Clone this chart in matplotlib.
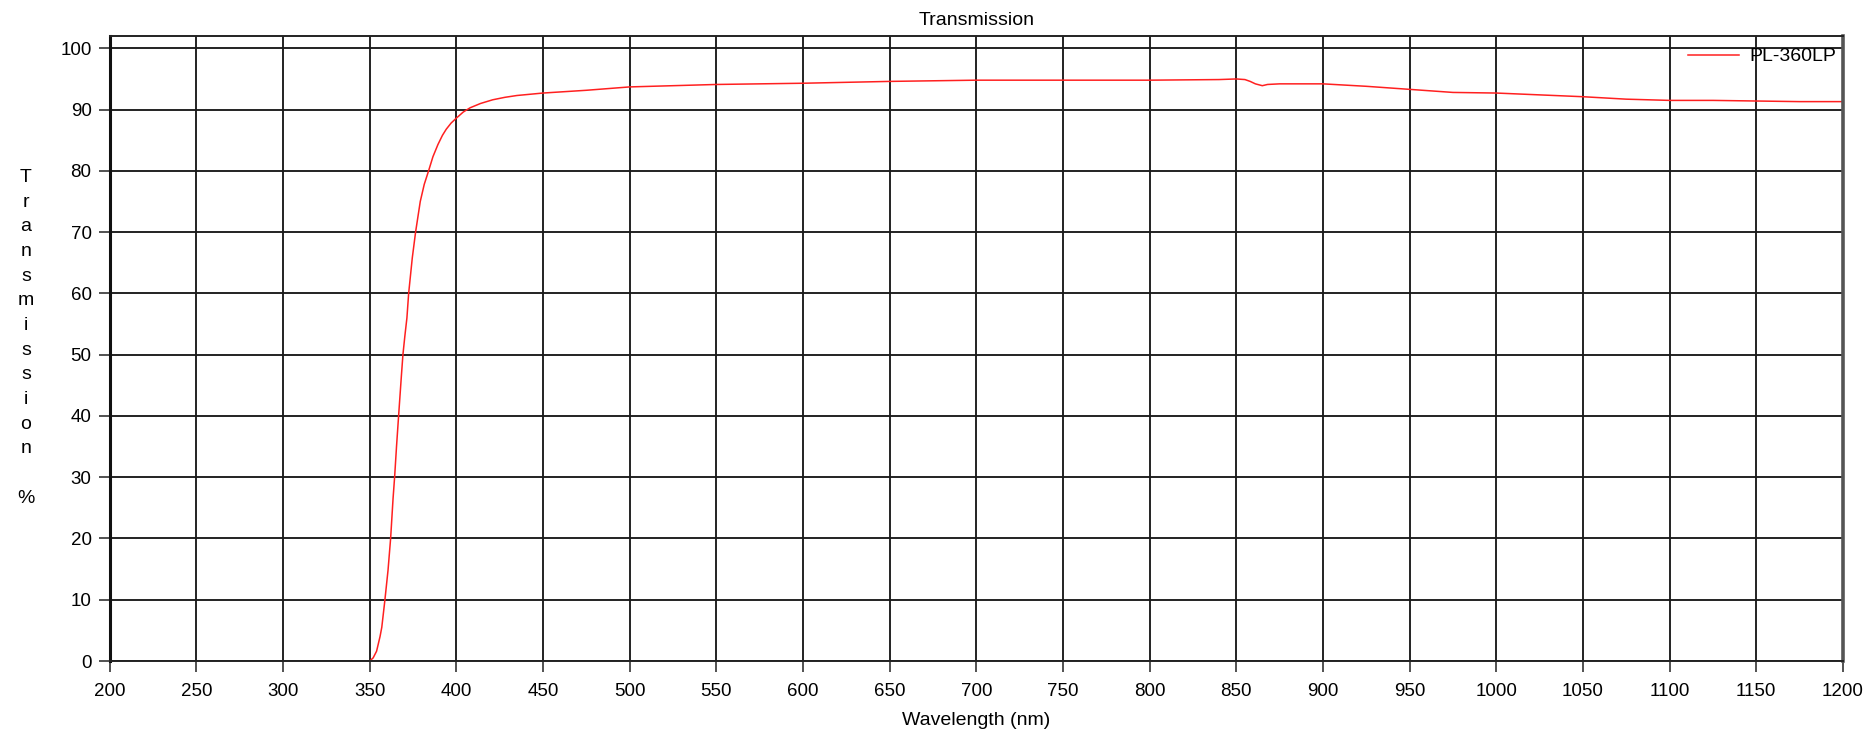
import matplotlib.pyplot as plt
import numpy as np

plt.rcParams['font.family'] = ['Liberation Sans', 'DejaVu Sans']

# wavelength (nm) and transmission (%)
wavelength = [350, 352, 354, 356, 357, 358.7, 360.6, 362.1, 363.5, 364.4,
              365.5, 366.7, 368.3, 369.2, 370.3, 371.5, 372.5, 374.6, 376.5, 379.2,
              381.5, 384, 386.5, 389.4, 392, 394.2, 397, 400, 404, 408,
              414, 421, 428, 435, 450, 475, 500, 525, 550, 575,
              600, 625, 650, 700, 750, 800, 840, 850, 855, 858,
              861, 865, 868, 875, 900, 925, 950, 975, 1000, 1025,
              1050, 1075, 1100, 1125, 1150, 1175, 1200]
transmission = [0, 0.5, 1.6, 4.0, 5.5, 9.7, 14.8, 20, 26.5, 30,
                35, 40, 46.5, 50, 53, 56, 60, 65.8, 70, 75.0,
                77.8, 80, 82.3, 84.3, 85.8, 86.8, 87.8, 88.6, 89.6, 90.3,
                91, 91.6, 92, 92.3, 92.7, 93.15, 93.7, 93.9, 94.1, 94.2,
                94.3, 94.45, 94.6, 94.8, 94.8, 94.8, 94.9, 95.0, 94.9, 94.6,
                94.2, 93.9, 94.1, 94.2, 94.2, 93.8, 93.3, 92.8, 92.7, 92.4,
                92.1, 91.7, 91.5, 91.5, 91.4, 91.3, 91.3]
series_name = 'PL-360LP'

xticks = np.arange(200, 1201, 50)
yticks = np.arange(0, 101, 10)

fig = plt.figure(figsize=(18.68, 7.36), dpi=100)
ax = fig.add_axes([0.0587, 0.1019, 0.9279, 0.8491])

ax.plot(wavelength, transmission, color='#ff2020', lw=1.1, label=series_name)

ax.set_xlim(200, 1200)
ax.set_ylim(0, 102)
ax.set_xticks(xticks)
ax.set_yticks(yticks)
ax.grid(True, color='#1a1a1a', lw=1.35)
ax.set_axisbelow(True)
ax.tick_params(direction='out', length=8, width=1.1, color='#222222',
               labelsize=13.5)
ax.tick_params(axis='x', pad=8)
ax.tick_params(axis='y', pad=5)

for s in ['top', 'bottom']:
    ax.spines[s].set_linewidth(1.4)
    ax.spines[s].set_color('#222222')
ax.spines['left'].set_linewidth(2.2)
ax.spines['left'].set_color('#111111')
ax.spines['right'].set_linewidth(2.6)
ax.spines['right'].set_color('#555555')

ax.set_title('Transmission', fontsize=14, pad=8)
ax.set_xlabel('Wavelength (nm)', fontsize=14, labelpad=8.5)

# vertical stacked y label like the original software
fig.text(0.0139, 0.541, '\n'.join('Transmission') + '\n\n%', fontsize=14,
         ha='center', va='center', linespacing=1.59)

leg = ax.legend(loc='upper right', bbox_to_anchor=(1.003, 1.0), frameon=False,
                fontsize=14, handlelength=2.6, handletextpad=0.55,
                borderaxespad=0.0, borderpad=0.6)

fig.savefig('out.png', dpi=100)
